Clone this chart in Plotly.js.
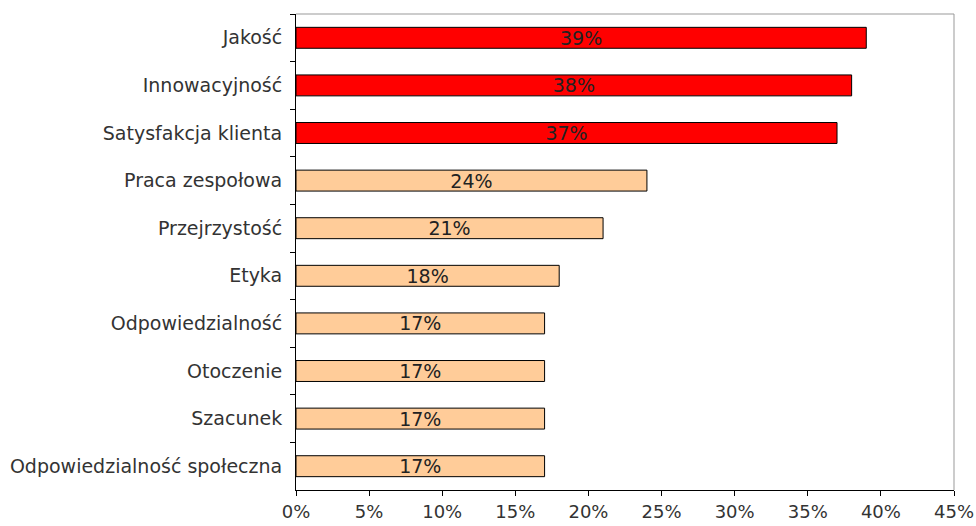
<!DOCTYPE html>
<html>
<head>
<meta charset="utf-8">
<script src="https://cdn.plot.ly/plotly-3.0.1.min.js"></script>
<style>html,body{margin:0;padding:0;background:#fff;}#chart{width:976px;height:526px;}</style>
</head>
<body>
<div id="chart"></div>
<script>
const categories = ["Jakość", "Innowacyjność", "Satysfakcja klienta", "Praca zespołowa", "Przejrzystość", "Etyka", "Odpowiedzialność", "Otoczenie", "Szacunek", "Odpowiedzialność społeczna"];
const values = [39, 38, 37, 24, 21, 18, 17, 17, 17, 17];
const barColors = ["#FF0000", "#FF0000", "#FF0000", "#FFCC99", "#FFCC99", "#FFCC99", "#FFCC99", "#FFCC99", "#FFCC99", "#FFCC99"];
const xTicks = [0, 5, 10, 15, 20, 25, 30, 35, 40, 45];

const font = "Verdana, 'DejaVu Sans', sans-serif";
const fs = 19;

const trace = {
  type: "bar",
  orientation: "h",
  x: values,
  y: categories,
  text: values.map(v => v + "%"),
  textposition: "inside",
  insidetextanchor: "middle",
  textangle: 0,
  constraintext: "none",
  textfont: {family: font, size: fs, color: "#222"},
  marker: {color: barColors, line: {color: "#000", width: 1}},
  hoverinfo: "none"
};

const layout = {
  width: 976, height: 526,
  margin: {l: 296, r: 22, t: 14, b: 36},
  paper_bgcolor: "#fff", plot_bgcolor: "#fff",
  bargap: 0.56,
  showlegend: false,
  font: {family: font, size: fs, color: "#333"},
  xaxis: {
    range: [0, 45],
    tickvals: xTicks,
    ticktext: xTicks.map(v => v + "%"),
    showgrid: false, zeroline: false,
    showline: true, linecolor: "#000", linewidth: 1,
    ticks: "outside", ticklen: 5, tickcolor: "#000", tickwidth: 1,
    ticklabelstandoff: 0,
    tickfont: {family: font, size: 18, color: "#333"},
    fixedrange: true
  },
  yaxis: {
    autorange: "reversed",
    showgrid: false, zeroline: false,
    showline: true, linecolor: "#000", linewidth: 1,
    ticks: "outside", ticklen: 5, tickcolor: "#000", tickwidth: 1,
    tickson: "boundaries",
    ticklabelstandoff: 9,
    tickfont: {family: font, size: fs, color: "#333"},
    fixedrange: true
  },
  shapes: [
    {type: "line", xref: "paper", yref: "paper", x0: 0, x1: 1, y0: 1, y1: 1, line: {color: "#999", width: 1}},
    {type: "line", xref: "paper", yref: "paper", x0: 1, x1: 1, y0: 0, y1: 1, line: {color: "#999", width: 1}}
  ]
};

Plotly.newPlot("chart", [trace], layout, {displayModeBar: false, staticPlot: true});
</script>
</body>
</html>
